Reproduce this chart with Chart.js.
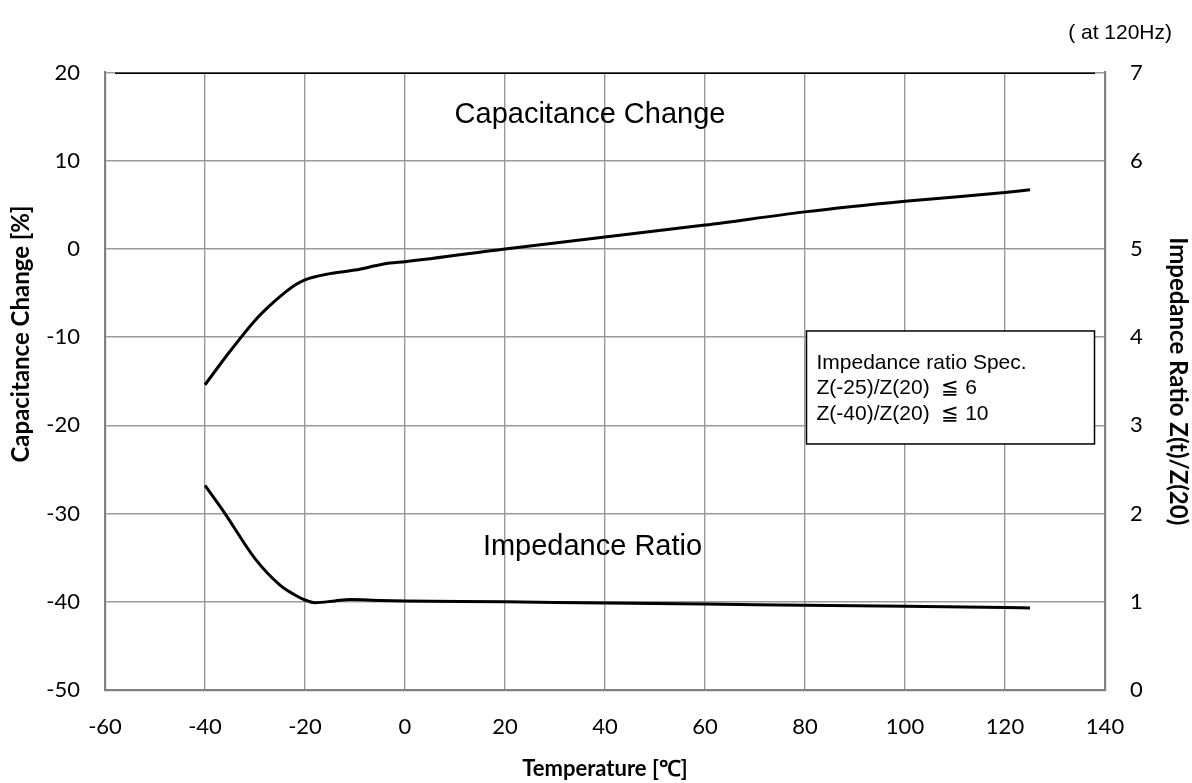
<!DOCTYPE html>
<html lang="en">
<head>
    <meta charset="UTF-8">
    <title>Temperature Characteristics</title>
    <script src="https://cdn.jsdelivr.net/npm/chart.js"></script>
    <style>
        body { margin: 0; background: #fff; }
        #wrap { width: 1192px; height: 783px; position: relative; }
    </style>
</head>
<body>
<div id="wrap"><canvas id="temp-chart"></canvas></div>
<script>
// Capacitance change curve (left axis, %)
const capTemps = [-40, -35, -30, -27, -25, -22, -20, -15, -10, -5, -3, 0, 20, 40, 60, 80, 100, 120, 125];
const capValues = [-15.4, -11.6, -8.1, -6.4, -5.4, -4.1, -3.5, -2.8, -2.4, -1.8, -1.6, -1.45, 0, 1.35, 2.7, 4.2, 5.4, 6.4, 6.7];

// Impedance ratio curve (right axis)
const impTemps = [-40, -36, -30, -25, -22, -20, -18, -14, -11, -5, 0, 20, 40, 60, 80, 100, 120, 125];
const impValues = [2.32, 2.0, 1.49, 1.19, 1.077, 1.02, 0.99, 1.01, 1.025, 1.015, 1.01, 1.0, 0.985, 0.975, 0.96, 0.95, 0.935, 0.93];

// black line along the top of the frame
const topTemps = [-58, 138];
const topValues = [20, 20];

const xTicks = [-60, -40, -20, 0, 20, 40, 60, 80, 100, 120, 140];
const leftTicks = [-50, -40, -30, -20, -10, 0, 10, 20];
const rightTicks = [0, 1, 2, 3, 4, 5, 6, 7];

function pts(xs, ys) {
    return xs.map((x, i) => ({ x: x, y: ys[i] }));
}

const gridColor = '#9a9a9a';
const frameColor = '#808080';
const tickFont = { family: 'Lato', size: 22 };
const titleFont = { family: 'Lato', size: 22, weight: 'bold' };

// annotation texts drawn on top of the plot
const notes = {
    id: 'notes',
    afterDraw(chart) {
        const c = chart.ctx;
        const x = chart.scales.x, y = chart.scales.y;
        c.save();
        c.fillStyle = '#000';
        c.textBaseline = 'middle';
        c.textAlign = 'center';
        c.font = '29px "Liberation Sans", Arial, sans-serif';
        c.fillText('Capacitance Change', x.getPixelForValue(37), y.getPixelForValue(15.2));
        c.fillText('Impedance Ratio', x.getPixelForValue(37.5), y.getPixelForValue(-33.8));
        c.font = '21px "Liberation Sans", Arial, sans-serif';
        c.textAlign = 'right';
        c.fillText('( at 120Hz)', 1172, 33);

        // spec box
        const bx = x.getPixelForValue(80.3), by = y.getPixelForValue(-9.3);
        const bw = 288, bh = 113;
        c.fillStyle = '#fff';
        c.fillRect(bx, by, bw, bh);
        c.strokeStyle = '#000';
        c.lineWidth = 1.5;
        c.strokeRect(bx, by, bw, bh);
        c.fillStyle = '#000';
        c.textAlign = 'left';
        c.font = '21px "Liberation Sans", Arial, sans-serif';
        c.fillText('Impedance ratio Spec.', bx + 10, by + 32);
        c.fillText('Z(-25)/Z(20)  \u2266 6', bx + 10, by + 57);
        c.fillText('Z(-40)/Z(20)  \u2266 10', bx + 10, by + 83);

        // left axis title
        c.translate(21, 334);
        c.rotate(-Math.PI / 2);
        c.textAlign = 'center';
        c.font = 'bold 24px Lato';
        c.fillText('Capacitance Change [%]', 0, 0);
        c.restore();
    }
};

const ctx = document.getElementById('temp-chart').getContext('2d');
new Chart(ctx, {
    type: 'line',
    data: {
        datasets: [
            {
                label: 'Capacitance Change',
                data: pts(capTemps, capValues),
                yAxisID: 'y',
                borderColor: '#000',
                borderWidth: 3,
                pointRadius: 0,
                cubicInterpolationMode: 'monotone'
            },
            {
                label: 'Impedance Ratio',
                data: pts(impTemps, impValues),
                yAxisID: 'y1',
                borderColor: '#000',
                borderWidth: 3,
                pointRadius: 0,
                cubicInterpolationMode: 'monotone'
            },
            {
                label: 'top',
                data: pts(topTemps, topValues),
                yAxisID: 'y',
                borderColor: '#000',
                borderWidth: 3,
                pointRadius: 0
            }
        ]
    },
    options: {
        responsive: true,
        maintainAspectRatio: false,
        animation: false,
        layout: { padding: { top: 72.5, left: 0, right: 0, bottom: 0 } },
        plugins: {
            legend: { display: false },
            tooltip: { enabled: false }
        },
        scales: {
            x: {
                type: 'linear',
                min: -60, max: 140,
                afterBuildTicks: s => { s.ticks = xTicks.map(v => ({ value: v })); },
                afterFit: s => { s.height = 93; },
                ticks: { font: tickFont, color: '#000', padding: 24, maxRotation: 0 },
                grid: { color: gridColor, lineWidth: 1.4, drawTicks: false },
                border: { color: frameColor, width: 2.2 },
                title: { display: true, text: 'Temperature [\u2103]', font: titleFont, color: '#000', padding: { top: 1, bottom: 1 } }
            },
            y: {
                position: 'left',
                min: -50, max: 20,
                afterBuildTicks: s => { s.ticks = leftTicks.map(v => ({ value: v })); },
                afterFit: s => { s.width = 105; },
                ticks: { font: tickFont, color: '#000', padding: 25 },
                grid: { color: gridColor, lineWidth: 1.4, drawTicks: false },
                border: { color: frameColor, width: 2.2 }
            },
            y1: {
                position: 'right',
                min: 0, max: 7,
                afterBuildTicks: s => { s.ticks = rightTicks.map(v => ({ value: v })); },
                afterFit: s => { s.width = 87; },
                ticks: { font: tickFont, color: '#000', padding: 25 },
                grid: { display: false, drawTicks: false },
                border: { color: frameColor, width: 2.2 },
                title: { display: true, text: 'Impedance Ratio Z(t)/Z(20)', font: { family: 'Lato', size: 24, weight: 'bold' }, color: '#000', padding: { top: 0, bottom: 0 } }
            }
        }
    },
    plugins: [notes]
});
</script>
</body>
</html>
